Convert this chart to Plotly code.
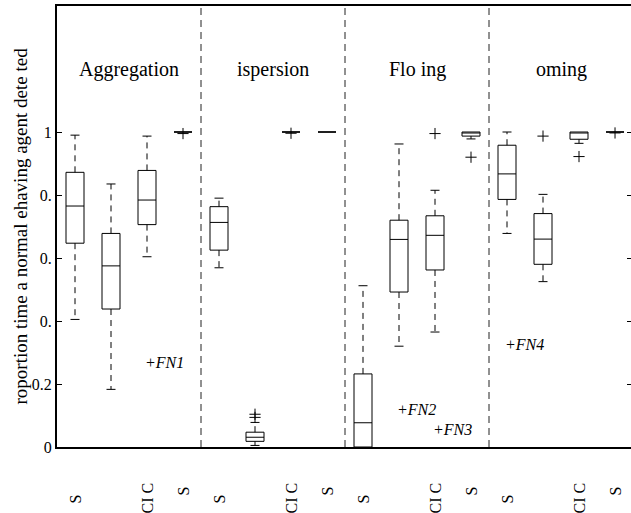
import plotly.graph_objects as go

# ---------------- data ----------------
positions = list(range(1, 17))
group_names = ["Aggregation", "ispersion", "Flo ing", "oming"]
x_labels = ["S", "", "CI C", "S"] * 4

q1 = [0.647, 0.438, 0.706, 1.0, 0.625, 0.018, 1.0, 1.0, 0.0, 0.492, 0.562, 0.987, 0.786, 0.580, 0.977, 1.0]
median = [0.765, 0.575, 0.784, 1.0, 0.713, 0.031, 1.0, 1.0, 0.077, 0.659, 0.672, 1.0, 0.867, 0.660, 1.0, 1.0]
q3 = [0.872, 0.678, 0.878, 1.0, 0.763, 0.047, 1.0, 1.0, 0.232, 0.720, 0.734, 1.0, 0.958, 0.741, 1.0, 1.0]
lower_whisker = [0.405, 0.183, 0.604, 1.0, 0.569, 0.005, 1.0, 1.0, 0.0, 0.320, 0.365, 0.978, 0.678, 0.525, 0.964, 1.0]
upper_whisker = [0.990, 0.835, 0.987, 1.0, 0.790, 0.078, 1.0, 1.0, 0.512, 0.962, 0.815, 1.0, 1.0, 0.802, 1.0, 1.0]

outlier_pos = [4, 6, 6, 7, 11, 12, 14, 15, 16]
outlier_val = [0.995, 0.094, 0.104, 0.996, 0.995, 0.920, 0.987, 0.922, 0.997]

fn_text = ["+FN1", "+FN2", "+FN3", "+FN4"]
fn_x = [2.9, 9.9, 10.9, 12.9]
fn_y = [0.267, 0.120, 0.054, 0.324]

y_tickvals = [0, 0.2, 0.4, 0.6, 0.8, 1.0]
y_ticktext = ["0", "0.2", "0.", "0.", "0.", "1"]
y_title = "roportion time a normal ehaving agent dete ted"

# ---------------- style ----------------
FONT = "Liberation Serif"
BOX_W = 0.5
CAP_W = 0.25
label_drop = [46, 0, 34, 38] * 4  # px below axis for the rotated x labels

fig = go.Figure()

# whiskers (dashed)
wx, wy = [], []
for p, a, b, lo, hi in zip(positions, q1, q3, lower_whisker, upper_whisker):
    if hi > b:
        wx += [p, p, None]
        wy += [b, hi, None]
    if lo < a:
        wx += [p, p, None]
        wy += [a, lo, None]
fig.add_trace(go.Scatter(x=wx, y=wy, mode="lines",
                         line=dict(color="black", width=1, dash="6px,5px"),
                         hoverinfo="skip", showlegend=False))

# caps
cx, cy = [], []
for p, a, b, lo, hi in zip(positions, q1, q3, lower_whisker, upper_whisker):
    if hi > b:
        cx += [p - CAP_W / 2, p + CAP_W / 2, None]
        cy += [hi, hi, None]
    if lo < a:
        cx += [p - CAP_W / 2, p + CAP_W / 2, None]
        cy += [lo, lo, None]
fig.add_trace(go.Scatter(x=cx, y=cy, mode="lines",
                         line=dict(color="black", width=1),
                         hoverinfo="skip", showlegend=False))

# boxes
fig.add_trace(go.Box(x=positions, q1=q1, median=median, q3=q3,
                     lowerfence=q1, upperfence=q3, width=BOX_W,
                     whiskerwidth=0, boxpoints=False,
                     line=dict(color="black", width=1),
                     fillcolor="rgba(255,255,255,0)",
                     showlegend=False))

# outliers
fig.add_trace(go.Scatter(x=outlier_pos, y=outlier_val, mode="markers",
                         marker=dict(symbol="cross-thin", size=8,
                                     line=dict(color="black", width=1)),
                         showlegend=False))

# invisible trace to carry the right-hand tick axis
fig.add_trace(go.Scatter(x=[positions[0]], y=[0], yaxis="y2", mode="markers",
                         marker=dict(opacity=0), hoverinfo="skip", showlegend=False))

# group dividers
for g in range(1, len(group_names)):
    xd = g * 4 + 0.5
    fig.add_shape(type="line", xref="x", yref="paper", x0=xd, x1=xd, y0=0, y1=1,
                  line=dict(color="#222222", width=1, dash="7px,5px"))

# group titles
for g, name in enumerate(group_names):
    fig.add_annotation(x=g * 4 + 2.5, y=1.2, xref="x", yref="y", text=name,
                       showarrow=False, font=dict(family=FONT, size=20, color="black"))

# FN labels
for t, x, y in zip(fn_text, fn_x, fn_y):
    fig.add_annotation(x=x, y=y, xref="x", yref="y", text="<i>" + t + "</i>",
                       xanchor="left", yanchor="middle", showarrow=False,
                       font=dict(family=FONT, size=16, color="black"))

# rotated x labels
for p, lab, d in zip(positions, x_labels, label_drop):
    if lab:
        fig.add_annotation(x=p, y=0, xref="x", yref="paper", text=lab, textangle=-90,
                           xanchor="center", yanchor="top", yshift=-d, showarrow=False,
                           font=dict(family=FONT, size=16, color="black"))

# y title
fig.add_annotation(x=0, y=0.5, xref="paper", yref="paper", text=y_title, textangle=-90,
                   xanchor="center", yanchor="middle", xshift=-37, showarrow=False,
                   font=dict(family=FONT, size=19, color="black"))

fig.update_layout(
    width=631, height=513,
    margin=dict(l=57, r=0, t=6, b=66),
    plot_bgcolor="white", paper_bgcolor="white",
    font=dict(family=FONT, size=16, color="black"),
    xaxis=dict(range=[0.5, 16.444], showgrid=False, zeroline=False,
               showline=True, linecolor="black", linewidth=2, mirror=True,
               ticks="", showticklabels=False),
    yaxis=dict(range=[0, 1.4], tickvals=y_tickvals, ticktext=y_ticktext,
               ticks="inside", ticklen=5, tickcolor="black", showgrid=False,
               zeroline=False, showline=True, linecolor="black", linewidth=2,
               tickfont=dict(family=FONT, size=16, color="black")),
    yaxis2=dict(range=[0, 1.4], overlaying="y", side="right", tickvals=y_tickvals,
                ticks="inside", ticklen=4, tickcolor="black", showticklabels=False,
                showgrid=False, zeroline=False, showline=False),
)

fig.write_html("out.html", config={"displayModeBar": False},
               post_script="document.body.style.margin='0';document.body.style.overflow='hidden';")
